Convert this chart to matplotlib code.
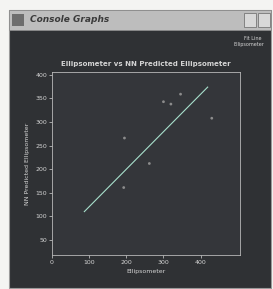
import numpy as np
import matplotlib

matplotlib.use("Agg")
import matplotlib.pyplot as plt  # noqa: E402
from matplotlib.patches import Rectangle  # noqa: E402

ellip = [320, 346, 430, 193, 195, 300, 262]
predicted = [338, 359, 308, 161, 266, 343, 212]

# fit line end points
fit_x = [87, 419]
fit_y = [110, 374]

x_ticks = [0, 100, 200, 300, 400]
x_labels = ["0", "100", "200", "300", "400"]
y_ticks = [50, 100, 150, 200, 250, 300, 350, 400]
y_labels = ["50", "100", "150", "200", "250", "300", "350", "400"]

W, H = 273, 289
BG = "#2f3134"
TXT = "#d4d4d4"

fig = plt.figure(figsize=(W / 100, H / 100), dpi=100)
fig.patch.set_facecolor("#f4f4f2")


def box(x0, y0, x1, y1, **kw):
    # pixel coords, origin top-left
    r = Rectangle((x0 / W, 1 - y1 / H), (x1 - x0) / W, (y1 - y0) / H,
                  transform=fig.transFigure, zorder=-1, **kw)
    fig.patches.append(r)


# window frame
box(9, 10, 271, 288, facecolor=BG, edgecolor="#9a9a9a", lw=0.8)
box(9, 10, 271, 30, facecolor="#bdbdbd", edgecolor="#8a8a8a", lw=0.6)
box(12, 14, 24, 26, facecolor="#6d6d6d", edgecolor="none")
box(244, 13, 256, 27, facecolor="#d8d8d8", edgecolor="#777777", lw=0.6)
box(258, 13, 270, 27, facecolor="#d8d8d8", edgecolor="#777777", lw=0.6)
fig.text(30 / W, 1 - 20 / H, "Console Graphs", fontsize=6.5, style="italic",
         weight="bold", color="#3a3a3a", va="center", ha="left")

# small legend top right
fig.text(262 / W, 1 - 38 / H, "Fit Line", fontsize=3.5, color=TXT, ha="right", va="center")
fig.text(264 / W, 1 - 45 / H, "Ellipsometer", fontsize=3.5, color=TXT, ha="right", va="center")

ax = fig.add_axes([52 / W, 1 - 255 / H, (240 - 52) / W, (255 - 72) / H])
ax.set_facecolor("#34363a")
ax.plot(fit_x, fit_y, color="#a8e0cc", lw=0.8)
ax.scatter(ellip, predicted, s=4, color="#8c8c8c", edgecolors="none")

ax.set_xlim(7, 506)
ax.set_ylim(18, 406)
ax.set_xticks(x_ticks)
ax.set_xticklabels(x_labels)
ax.set_yticks(y_ticks)
ax.set_yticklabels(y_labels)
ax.tick_params(colors=TXT, labelsize=4.5, length=2, width=0.5, pad=1.5)
for s in ax.spines.values():
    s.set_color("#b8b8b8")
    s.set_linewidth(0.6)

ax.set_title("Ellipsometer vs NN Predicted Ellipsometer", fontsize=5, color=TXT,
             weight="bold", pad=4)
ax.set_xlabel("Ellipsometer", fontsize=4.5, color=TXT, labelpad=3)
ax.set_ylabel("NN Predicted Ellipsometer", fontsize=4.5, color=TXT, labelpad=4)

fig.savefig("out.png", dpi=100, facecolor=fig.get_facecolor())
